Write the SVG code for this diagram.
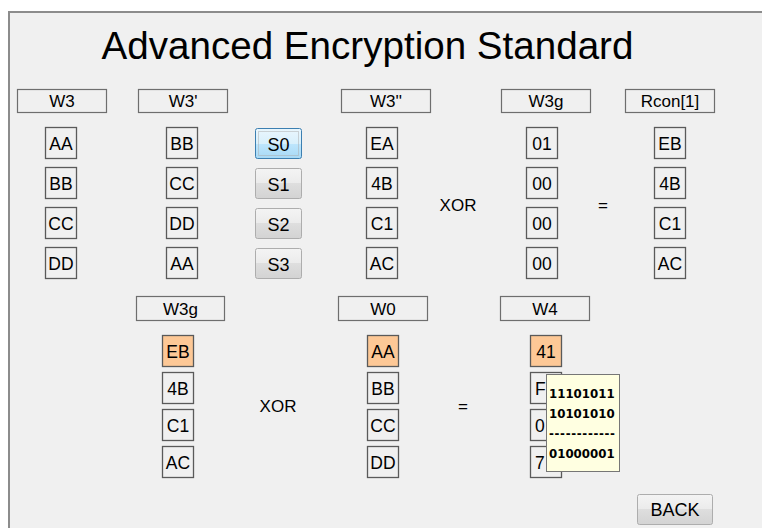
<svg xmlns="http://www.w3.org/2000/svg" width="762" height="528" viewBox="0 0 762 528">
<defs>
<linearGradient id="gBtn" x1="0" y1="0" x2="0" y2="1">
<stop offset="0" stop-color="#f4f4f4"/><stop offset="0.5" stop-color="#ebebeb"/><stop offset="0.5" stop-color="#dedede"/><stop offset="1" stop-color="#d3d3d3"/>
</linearGradient>
<linearGradient id="gSel" x1="0" y1="0" x2="0" y2="1">
<stop offset="0" stop-color="#eaf6fd"/><stop offset="0.5" stop-color="#d9f0fc"/><stop offset="0.5" stop-color="#bee6fd"/><stop offset="1" stop-color="#a7d9f5"/>
</linearGradient>
</defs>
<style>
text{font-family:"Liberation Sans",Arial,sans-serif;fill:#000}
.hdr rect{fill:#f0f0f0;stroke:#6e6e6e;stroke-width:1.2}
.hdr text{font-size:17px;text-anchor:middle}
.cell rect{fill:#f0f0f0;stroke:#5a5a5a;stroke-width:1.3}
.cell.hl rect{fill:#fdc896}
.cell text{font-size:17.5px;text-anchor:middle}
.cell text.cut{text-anchor:start}
.btn rect{fill:url(#gBtn);stroke:#adadad;stroke-width:1}
.btn text{font-size:18px;text-anchor:middle}
.op{font-size:17px;text-anchor:middle}
.tip text{font-family:"DejaVu Sans",Verdana,sans-serif;font-weight:bold;font-size:11.8px}
</style>
<rect x="0" y="0" width="762" height="528" fill="#ffffff"/>
<rect x="9" y="12" width="760" height="520" fill="#f0f0f0" stroke="#8c8c8c" stroke-width="2"/>
<text x="367.5" y="59" font-size="38.6" text-anchor="middle">Advanced Encryption Standard</text>

<g id="hdr-w3" class="hdr"><rect x="17.5" y="89.5" width="89" height="23"/><text x="62" y="107">W3</text></g>
<g id="hdr-w3p" class="hdr"><rect x="138.5" y="89.5" width="89" height="23"/><text x="183" y="107">W3'</text></g>
<g id="hdr-w3pp" class="hdr"><rect x="341.5" y="89.5" width="89" height="23"/><text x="386" y="107">W3''</text></g>
<g id="hdr-w3g" class="hdr"><rect x="501.5" y="89.5" width="89" height="23"/><text x="546" y="107">W3g</text></g>
<g id="hdr-rcon" class="hdr"><rect x="625.5" y="89.5" width="89" height="23"/><text x="670" y="107">Rcon[1]</text></g>

<g id="w3-0" class="cell"><rect x="45.5" y="127.5" width="31" height="31"/><text x="61" y="150">AA</text></g>
<g id="w3-1" class="cell"><rect x="45.5" y="167.5" width="31" height="31"/><text x="61" y="190">BB</text></g>
<g id="w3-2" class="cell"><rect x="45.5" y="207.5" width="31" height="31"/><text x="61" y="230">CC</text></g>
<g id="w3-3" class="cell"><rect x="45.5" y="247.5" width="31" height="31"/><text x="61" y="270">DD</text></g>

<g id="w3p-0" class="cell"><rect x="166.5" y="127.5" width="31" height="31"/><text x="182" y="150">BB</text></g>
<g id="w3p-1" class="cell"><rect x="166.5" y="167.5" width="31" height="31"/><text x="182" y="190">CC</text></g>
<g id="w3p-2" class="cell"><rect x="166.5" y="207.5" width="31" height="31"/><text x="182" y="230">DD</text></g>
<g id="w3p-3" class="cell"><rect x="166.5" y="247.5" width="31" height="31"/><text x="182" y="270">AA</text></g>

<g id="s0" class="btn"><rect x="255.5" y="128.5" width="46" height="30" rx="2" style="fill:url(#gSel);stroke:#3c7fb1"/><rect x="258.5" y="131.5" width="40" height="24" stroke="#555" stroke-width="0.8" stroke-dasharray="1 1" style="fill:none"/><text x="278.5" y="151">S0</text></g>
<g id="s1" class="btn"><rect x="255.5" y="168.5" width="46" height="30" rx="2"/><text x="278.5" y="191">S1</text></g>
<g id="s2" class="btn"><rect x="255.5" y="208.5" width="46" height="30" rx="2"/><text x="278.5" y="231">S2</text></g>
<g id="s3" class="btn"><rect x="255.5" y="248.5" width="46" height="30" rx="2"/><text x="278.5" y="271">S3</text></g>

<g id="w3pp-0" class="cell"><rect x="366.5" y="127.5" width="31" height="31"/><text x="382" y="150">EA</text></g>
<g id="w3pp-1" class="cell"><rect x="366.5" y="167.5" width="31" height="31"/><text x="382" y="190">4B</text></g>
<g id="w3pp-2" class="cell"><rect x="366.5" y="207.5" width="31" height="31"/><text x="382" y="230">C1</text></g>
<g id="w3pp-3" class="cell"><rect x="366.5" y="247.5" width="31" height="31"/><text x="382" y="270">AC</text></g>

<text id="xor1" class="op" x="458" y="211">XOR</text>

<g id="rc-0" class="cell"><rect x="526.5" y="127.5" width="31" height="31"/><text x="542" y="150">01</text></g>
<g id="rc-1" class="cell"><rect x="526.5" y="167.5" width="31" height="31"/><text x="542" y="190">00</text></g>
<g id="rc-2" class="cell"><rect x="526.5" y="207.5" width="31" height="31"/><text x="542" y="230">00</text></g>
<g id="rc-3" class="cell"><rect x="526.5" y="247.5" width="31" height="31"/><text x="542" y="270">00</text></g>

<text id="eq1" class="op" x="603" y="211">=</text>

<g id="g-0" class="cell"><rect x="654.5" y="127.5" width="31" height="31"/><text x="670" y="150">EB</text></g>
<g id="g-1" class="cell"><rect x="654.5" y="167.5" width="31" height="31"/><text x="670" y="190">4B</text></g>
<g id="g-2" class="cell"><rect x="654.5" y="207.5" width="31" height="31"/><text x="670" y="230">C1</text></g>
<g id="g-3" class="cell"><rect x="654.5" y="247.5" width="31" height="31"/><text x="670" y="270">AC</text></g>

<g id="hdr-w3g-b" class="hdr"><rect x="136.5" y="296.5" width="88" height="24"/><text x="180.5" y="315">W3g</text></g>
<g id="hdr-w0" class="hdr"><rect x="338.5" y="296.5" width="89" height="24"/><text x="383" y="315">W0</text></g>
<g id="hdr-w4" class="hdr"><rect x="500.5" y="296.5" width="89" height="24"/><text x="545" y="315">W4</text></g>

<g id="b-g-0" class="cell hl"><rect x="162.5" y="335.5" width="31" height="31"/><text x="178" y="358">EB</text></g>
<g id="b-g-1" class="cell"><rect x="162.5" y="372.5" width="31" height="31"/><text x="178" y="395">4B</text></g>
<g id="b-g-2" class="cell"><rect x="162.5" y="409.5" width="31" height="31"/><text x="178" y="432">C1</text></g>
<g id="b-g-3" class="cell"><rect x="162.5" y="446.5" width="31" height="31"/><text x="178" y="469">AC</text></g>

<text id="xor2" class="op" x="278" y="412">XOR</text>

<g id="w0-0" class="cell hl"><rect x="367.5" y="335.5" width="31" height="31"/><text x="383" y="358">AA</text></g>
<g id="w0-1" class="cell"><rect x="367.5" y="372.5" width="31" height="31"/><text x="383" y="395">BB</text></g>
<g id="w0-2" class="cell"><rect x="367.5" y="409.5" width="31" height="31"/><text x="383" y="432">CC</text></g>
<g id="w0-3" class="cell"><rect x="367.5" y="446.5" width="31" height="31"/><text x="383" y="469">DD</text></g>

<text id="eq2" class="op" x="463" y="412">=</text>

<g id="w4-0" class="cell hl"><rect x="530.5" y="335.5" width="31" height="31"/><text x="546" y="358">41</text></g>
<g id="w4-1" class="cell"><rect x="530.5" y="372.5" width="31" height="31"/><text class="cut" x="535" y="395">F</text></g>
<g id="w4-2" class="cell"><rect x="530.5" y="409.5" width="31" height="31"/><text class="cut" x="535" y="432">0</text></g>
<g id="w4-3" class="cell"><rect x="530.5" y="446.5" width="31" height="31"/><text class="cut" x="535" y="469">7</text></g>

<g id="tooltip" class="tip">
<rect x="546.5" y="374.5" width="73" height="97" fill="#ffffe1" stroke="#767676" stroke-width="1"/>
<text x="549" y="398">11101011</text>
<text x="549" y="418">10101010</text>
<text x="549" y="438" textLength="66" lengthAdjust="spacing">------------</text>
<text x="549" y="458">01000001</text>
</g>

<g id="back" class="btn"><rect x="637.5" y="494.5" width="75" height="30" rx="2"/><text x="675" y="516">BACK</text></g>
<g id="connectors"></g>
</svg>
